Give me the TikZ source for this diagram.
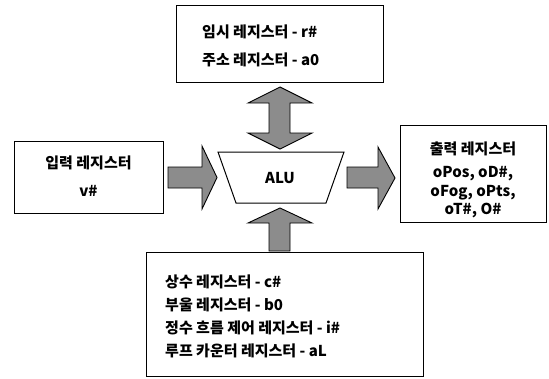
\documentclass[tikz,border=0pt]{standalone}
\usepackage{fontspec}
\setmainfont{Noto Sans CJK KR}
\newfontfamily\kr{Noto Sans CJK KR}
\begin{document}
\begin{tikzpicture}[x=1pt,y=-1pt,
  box/.style={draw=black,line width=1.1pt,fill=white,inner sep=0pt},
  blockarrow/.style={draw=black,line width=0.9pt,fill=black!45,line join=miter},
  txt/.style={font=\kr\fontsize{15}{18}\selectfont\bfseries,inner sep=0pt}]
\useasboundingbox (0,0) rectangle (549,378);
\fill[white] (0,0) rectangle (549,378);

% boxes
\node[box,anchor=north west,minimum width=207pt,minimum height=77pt] (topbox) at (176,5) {};
\node[box,anchor=north west,minimum width=149pt,minimum height=72pt] (inbox) at (14,141) {};
\node[box,anchor=north west,minimum width=146pt,minimum height=97pt] (outbox) at (400,125) {};
\node[box,anchor=north west,minimum width=277pt,minimum height=124pt] (botbox) at (146,252) {};

% ALU
\draw[line width=1pt,fill=white] (218,152) -- (344,152) -- (326,203) -- (236,203) -- cycle;
\node[txt] (alu) at (280,178) {ALU};

% arrows
\draw[blockarrow] (168,167) -- (202,167) -- (202,146) -- (217,177.5) -- (202,209) -- (202,188) -- (168,188) -- cycle;
\draw[blockarrow] (347,167) -- (378,167) -- (378,147) -- (395,178) -- (378,209) -- (378,188) -- (347,188) -- cycle;
\draw[blockarrow] (280,87) -- (312,103) -- (290,103) -- (290,133) -- (312,133) -- (280,149) -- (248,133) -- (269,133) -- (269,103) -- (248,103) -- cycle;
\draw[blockarrow] (280,208) -- (312,223) -- (290,223) -- (290,251) -- (269,251) -- (269,223) -- (248,223) -- cycle;

% texts
\node[txt,anchor=base west] (t1) at (202,37.5) {임시 레지스터 - r\#};
\node[txt,anchor=base west] (t2) at (202,65.5) {주소 레지스터 - a0};

\node[txt,anchor=base] (i1) at (88.5,168.5) {입력 레지스터};
\node[txt,anchor=base] (i2) at (88.5,196.5) {v\#};

\node[txt,anchor=base] (o1) at (473,154.5) {출력 레지스터};
\node[txt,anchor=base] (o2) at (473,177.5) {oPos, oD\#,};
\node[txt,anchor=base] (o3) at (473,196.5) {oFog, oPts,};
\node[txt,anchor=base] (o4) at (473,214.5) {oT\#, O\#};

\node[txt,anchor=base west] (b1) at (165,287.5) {상수 레지스터 - c\#};
\node[txt,anchor=base west] (b2) at (165,310.5) {부울 레지스터 - b0};
\node[txt,anchor=base west] (b3) at (165,333.5) {정수 흐름 제어 레지스터 - i\#};
\node[txt,anchor=base west] (b4) at (165,356.5) {루프 카운터 레지스터 - aL};
\end{tikzpicture}
\end{document}
